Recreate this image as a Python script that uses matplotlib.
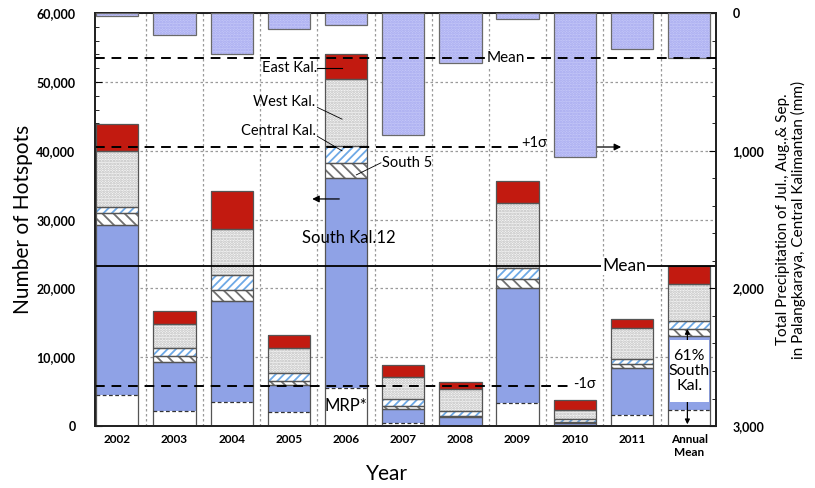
import numpy as np
import matplotlib.pyplot as plt
from matplotlib.patches import Rectangle
from matplotlib.ticker import MultipleLocator, FuncFormatter

plt.rcParams['font.family'] = ['Lato', 'DejaVu Sans']
plt.rcParams['hatch.linewidth'] = 1.3

years = ["2002", "2003", "2004", "2005", "2006", "2007", "2008", "2009", "2010", "2011"]

# hotspots per region, stacked bottom -> top
mrp = [4500, 2200, 3500, 2000, 5500, 400, 0, 3300, 100, 1600]
south12 = [24700, 7100, 14700, 3960, 30600, 2100, 1350, 16700, 350, 6800]
south5 = [1800, 900, 1600, 640, 2100, 400, 150, 1300, 150, 600]
central = [900, 1100, 2100, 1060, 2500, 960, 700, 1700, 350, 800]
west = [8100, 3600, 6700, 3640, 9700, 3300, 3200, 9400, 1450, 4400]
east = [3900, 1800, 5500, 2000, 3600, 1700, 950, 3200, 1400, 1300]

# Jul+Aug+Sep rainfall at Palangkaraya (mm)
precip = [20, 155, 298, 116, 87, 886, 363, 44, 1046, 261]

labels = years + ["Annual\nMean"]
segs = np.array([mrp, south12, south5, central, west, east], float)
segs = np.column_stack([segs, segs.mean(axis=1)])
rain = np.append(precip, np.mean(precip))

totals = segs[:, :10].sum(axis=0)
hot_mean = totals.mean()
hot_sd = totals.std(ddof=1)
south_share = segs[:3, 10].sum() / segs[:, 10].sum() * 100

x = np.arange(len(labels))
w = 0.74
edge = '#555555'

fig, ax = plt.subplots(figsize=(8.15, 4.88), dpi=100)
fig.subplots_adjust(left=0.1166, right=0.8785, top=0.973, bottom=0.127)
ax2 = ax.twinx()

xl = (-0.39, 10.47)

# fills: (face, hatch, hatch colour)
styles = [
    ('white', None, 'white'),
    ('#8FA2E6', None, '#8FA2E6'),
    ('white', '\\\\\\', '#707070'),
    ('white', '////', '#6EA9E6'),
    ('#F6F6F6', '......', '#BDBDBD'),
    ('#C21A10', None, '#C21A10'),
]
bottom = np.zeros(len(x))
tops = []
for vals, (fc, hatch, hc) in zip(segs, styles):
    ax.bar(x, vals, w, bottom=bottom, color=fc, hatch=hatch, edgecolor=hc,
           linewidth=0, zorder=2)
    tops.append(bottom + vals)
    bottom = bottom + vals

# outlines: MRP + South Kal.12 drawn as one box, the rest per segment
ax.bar(x, tops[1], w, fill=False, edgecolor=edge, lw=0.9, zorder=3)
for i in range(2, 6):
    ax.bar(x, segs[i], w, bottom=tops[i - 1], fill=False, edgecolor=edge,
           lw=0.9, zorder=3)
for xi, m in zip(x, segs[0]):
    if m > 200:
        ax.plot([xi - w / 2, xi + w / 2], [m, m], color='#333333', lw=0.9,
                ls=(0, (3, 2)), zorder=3)

# rainfall hanging from the top
ax2.bar(x, rain, w, color='#C4C7F8', hatch='......', edgecolor='#A6A9EF',
        linewidth=0, zorder=2)
ax2.bar(x, rain, w, fill=False, edgecolor='#6A6A6A', lw=0.9, zorder=3)
ax2.set_ylim(3000, 0)
ax2.axhline(np.mean(precip), color='k', lw=1.4, ls=(0, (5, 3.5)), zorder=4)
ax2.text(6.8, np.mean(precip), "Mean", fontsize=11, ha='center', va='center',
         bbox=dict(fc='white', ec='none', pad=1), zorder=5)

# hotspot mean and +/- 1 sigma
ax.plot(xl, [hot_mean, hot_mean], color='k', lw=1.3, zorder=4)
ax.text(8.86, hot_mean, "Mean", fontsize=12.5, ha='center', va='center',
        bbox=dict(fc='white', ec='none', pad=0.5), zorder=5)
ax.plot([xl[0], 7.03], [hot_mean + hot_sd] * 2, color='k', lw=1.4,
        ls=(0, (5, 3.5)), zorder=4)
ax.text(7.06, hot_mean + hot_sd + 500, "+1σ", fontsize=10.5, ha='left',
        va='center', zorder=5)
ax.plot([xl[0], 7.95], [hot_mean - hot_sd] * 2, color='k', lw=1.4,
        ls=(0, (5, 3.5)), zorder=4)
ax.text(7.97, hot_mean - hot_sd + 200, "-1σ", fontsize=10.5, ha='left',
        va='center', zorder=5)

# region labels on the 2006 bar
lab = dict(fontsize=10.5, va='center', zorder=6)
ax.text(3.49, 52000, "East Kal.", ha='right', **lab)
ax.plot([3.5, 3.93], [52000, 52000], color='k', lw=0.8, zorder=6)
ax.text(3.46, 47100, "West Kal.", ha='right', **lab)
ax.plot([3.5, 3.93], [46300, 44600], color='k', lw=0.6, zorder=6)
ax.text(3.48, 42900, "Central Kal.", ha='right', **lab)
ax.plot([3.5, 3.93], [42100, 40000], color='k', lw=0.6, zorder=6)
ax.text(4.63, 38250, "South 5", ha='left', **lab)
ax.plot([4.61, 4.18], [38250, 36500], color='k', lw=0.6, zorder=6)
ax.text(4.04, 27300, "South Kal.12", fontsize=12, ha='center', va='center',
        zorder=6)
ax.text(4.0, 2900, "MRP*", fontsize=12, ha='center', va='center', zorder=6)

ax.annotate('', xy=(3.36, 33000), xytext=(3.93, 33000), zorder=6,
            arrowprops=dict(arrowstyle='-|>', color='k', lw=0.9,
                            mutation_scale=10))
ax.annotate('', xy=(8.86, 40550), xytext=(8.25, 40550), zorder=6,
            arrowprops=dict(arrowstyle='-|>', color='k', lw=0.9,
                            mutation_scale=10))

# share of South Kal. in the mean bar
ax.annotate('', xy=(9.97, tops[2][10]), xytext=(9.97, 250), zorder=6,
            arrowprops=dict(arrowstyle='<|-|>', color='k', lw=0.9,
                            mutation_scale=7, shrinkA=0, shrinkB=0))
ax.add_patch(Rectangle((9.66, 3500), 0.69, 9000, fc='white', ec='none',
                       zorder=7))
ax.text(10.0, 8000, f"{south_share:.0f}%\nSouth\nKal.", fontsize=11.5,
        ha='center', va='center', linespacing=1.05, zorder=8)

# axes, ticks, grid
ax.set_xlim(*xl)
ax.set_ylim(0, 60000)
ax.set_xticks(x)
ax.set_xticklabels(labels, fontsize=8.5, fontweight='bold')
ax.set_xticks(x[:-1] + 0.5, minor=True)
ax.yaxis.set_major_locator(MultipleLocator(10000))
ax.yaxis.set_minor_locator(MultipleLocator(2000))
ax.yaxis.set_major_formatter(FuncFormatter(lambda v, p: f"{v:,.0f}"))
ax.tick_params(axis='y', which='both', direction='in', labelsize=9, pad=14)
ax.tick_params(axis='y', which='major', length=5)
ax.tick_params(axis='y', which='minor', length=3)
ax.tick_params(axis='x', which='major', direction='in', length=3, pad=6)
ax.tick_params(axis='x', which='minor', length=0)
for t in ax.get_yticklabels():
    t.set_fontweight('bold')

ax2.yaxis.set_major_locator(MultipleLocator(1000))
ax2.yaxis.set_minor_locator(MultipleLocator(200))
ax2.yaxis.set_major_formatter(FuncFormatter(lambda v, p: f"{v:,.0f}"))
ax2.tick_params(axis='y', which='both', direction='in', labelsize=9, pad=12)
ax2.tick_params(axis='y', which='major', length=5)
ax2.tick_params(axis='y', which='minor', length=3)
for t in ax2.get_yticklabels():
    t.set_fontweight('bold')

ax.set_axisbelow(True)
ax.grid(axis='y', which='major', color='#9A9A9A', ls=(0, (2, 2)), lw=0.9)
ax.grid(axis='x', which='minor', color='#9A9A9A', ls=(0, (2, 2)), lw=0.9)

for a in (ax, ax2):
    for s in a.spines.values():
        s.set_linewidth(1.3)
        s.set_color('#222222')

ax.set_ylabel("Number of Hotspots", fontsize=15)
ax.yaxis.set_label_coords(-0.100, 0.5)
ax.set_xlabel("Year", fontsize=15)
ax.xaxis.set_label_coords(0.47, -0.093)
ax2.set_ylabel("Total Precipitation of Jul., Aug.,& Sep.\n"
               "in Palangkaraya, Central Kalimantan (mm)", fontsize=11,
               linespacing=1.15)
ax2.yaxis.set_label_coords(1.096, 0.5)

plt.savefig("out.png", dpi=100)
